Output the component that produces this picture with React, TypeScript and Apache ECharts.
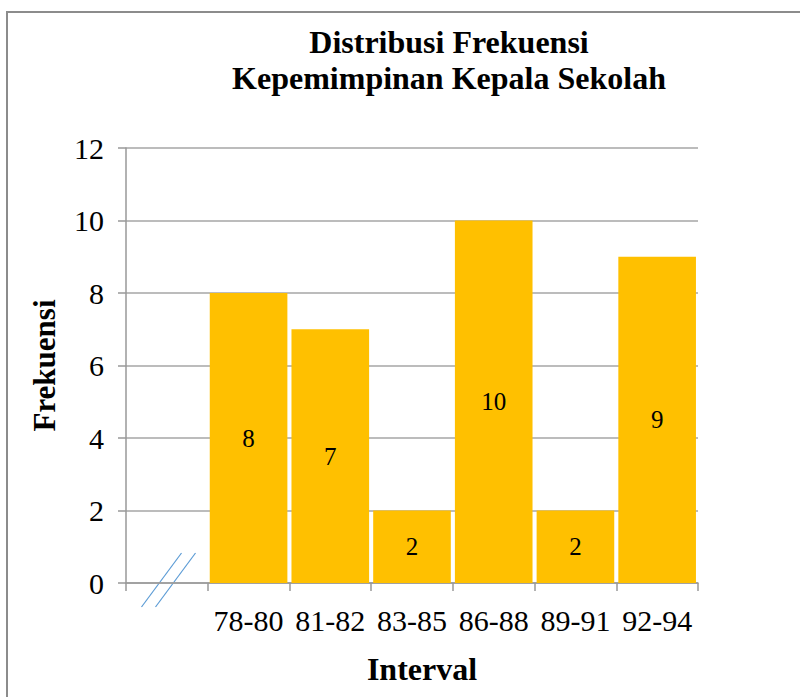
import React, { useEffect, useRef } from "react";
import * as echarts from "echarts";

const categories = ["", "78-80", "81-82", "83-85", "86-88", "89-91", "92-94"];
const frequencies: (number | null)[] = [null, 8, 7, 2, 10, 2, 9];
const yTicks = { min: 0, max: 12, interval: 2 };

const FONT = "Liberation Serif";

export default function App() {
  const ref = useRef<HTMLDivElement>(null);
  useEffect(() => {
    document.body.style.margin = "0";
    const chart = echarts.init(ref.current!, null, { renderer: "svg" });
    chart.setOption({
      animation: false,
      backgroundColor: "#ffffff",
      textStyle: { fontFamily: FONT },
      title: {
        text: "Distribusi Frekuensi\nKepemimpinan Kepala Sekolah",
        left: 444,
        top: 19,
        textAlign: "center",
        textStyle: {
          fontFamily: FONT,
          fontSize: 32,
          fontWeight: "bold",
          color: "#000",
          lineHeight: 36,
        },
      },
      grid: { left: 126, right: 102, top: 148, bottom: 114, containLabel: false },
      xAxis: {
        type: "category",
        data: categories,
        name: "Interval",
        nameLocation: "middle",
        nameGap: 70,
        nameTextStyle: {
          fontFamily: FONT,
          fontSize: 32,
          fontWeight: "bold",
          color: "#000",
          padding: [0, 0, 0, 20],
        },
        axisLine: { lineStyle: { color: "#999", width: 1.5 } },
        axisTick: { show: true, length: 8, alignWithLabel: false, lineStyle: { color: "#999", width: 1.5 } },
        axisLabel: { fontFamily: FONT, fontSize: 30, color: "#000", margin: 22, interval: 0 },
      },
      yAxis: {
        type: "value",
        min: yTicks.min,
        max: yTicks.max,
        interval: yTicks.interval,
        name: "Frekuensi",
        nameLocation: "middle",
        nameGap: 66,
        nameTextStyle: { fontFamily: FONT, fontSize: 31, fontWeight: "bold", color: "#000" },
        axisLine: { show: true, lineStyle: { color: "#999", width: 1.5 } },
        axisTick: { show: true, length: 8, lineStyle: { color: "#999", width: 1.5 } },
        axisLabel: { fontFamily: FONT, fontSize: 30, color: "#000", margin: 22 },
        splitLine: { lineStyle: { color: "#a6a6a6", width: 1.5 } },
      },
      series: [
        {
          type: "bar",
          data: frequencies,
          barWidth: "95%",
          itemStyle: { color: "#ffc000" },
          label: {
            show: true,
            position: "inside",
            fontFamily: FONT,
            fontSize: 25,
            color: "#000",
          },
        },
      ],
      graphic: [
        {
          type: "rect",
          shape: { x: 7, y: 12, width: 820, height: 720 },
          style: { fill: "none", stroke: "#8c8c8c", lineWidth: 2 },
          silent: true,
        },
        {
          type: "line",
          shape: { x1: 141.5, y1: 607, x2: 181.5, y2: 553 },
          style: { stroke: "#5b9bd5", lineWidth: 1.2 },
          silent: true,
        },
        {
          type: "line",
          shape: { x1: 155.5, y1: 607, x2: 195.5, y2: 553 },
          style: { stroke: "#5b9bd5", lineWidth: 1.2 },
          silent: true,
        },
      ],
    });
    return () => chart.dispose();
  }, []);
  return <div ref={ref} style={{ width: 800, height: 697 }} />;
}
